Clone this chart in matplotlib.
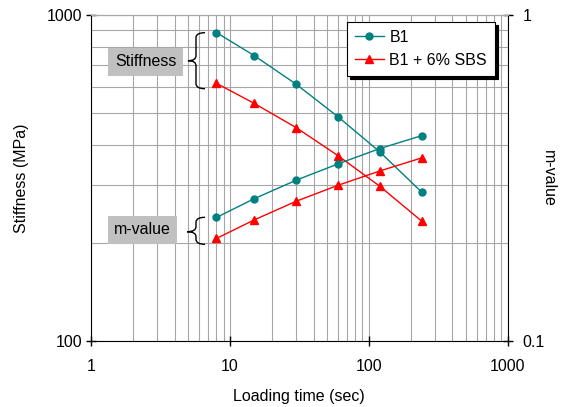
import numpy as np
import matplotlib
matplotlib.use("Agg")
import matplotlib.pyplot as plt
from matplotlib.path import Path
from matplotlib.patches import PathPatch
from matplotlib.ticker import NullFormatter

plt.rcParams['font.family'] = ['Liberation Sans', 'DejaVu Sans']
plt.rcParams['font.size'] = 11.5

# loading time (sec)
t = [8, 15, 30, 60, 120, 240]
# stiffness (MPa)
s_b1 = [883, 750, 613, 487, 380, 286]
s_sbs = [617, 535, 451, 370, 298, 233]
# m-value
m_b1 = [0.239, 0.273, 0.311, 0.349, 0.389, 0.426]
m_sbs = [0.206, 0.235, 0.268, 0.300, 0.332, 0.364]

W, H = 571, 407
fig = plt.figure(figsize=(W/100, H/100), dpi=100)
ax = fig.add_axes([91/W, 1-340.7/H, (507.7-91)/W, (340.7-15)/H])

teal = '#008080'
red = '#ff0000'
gcol = '#a6a6a6'

ax.plot(t, s_b1, '-o', color=teal, lw=1, ms=5, label='B1')
ax.plot(t, s_sbs, '-^', color=red, lw=1, ms=6, label='B1 + 6% SBS')
ax.set_xscale('log')
ax.set_yscale('log')
ax.set_xlim(1, 1000)
ax.set_ylim(100, 1000)
ax.set_xticks([1, 10, 100, 1000])
ax.set_xticklabels(['1', '10', '100', '1000'])
ax.set_yticks([100, 1000])
ax.set_yticklabels(['100', '1000'])
ax.xaxis.set_minor_formatter(NullFormatter())
ax.yaxis.set_minor_formatter(NullFormatter())
ax.grid(True, which='both', color=gcol, lw=0.8)
ax.set_axisbelow(True)
ax.tick_params(which='major', direction='inout', length=7, width=1)
ax.tick_params(axis='x', pad=10)
ax.tick_params(axis='y', pad=3)
ax.tick_params(which='minor', length=0)
ax.spines['top'].set_color(gcol)
ax.spines['right'].set_visible(False)

ax2 = ax.twinx()
ax2.plot(t, m_b1, '-o', color=teal, lw=1, ms=5)
ax2.plot(t, m_sbs, '-^', color=red, lw=1, ms=6)
ax2.set_yscale('log')
ax2.set_ylim(0.1, 1)
ax2.set_yticks([0.1, 1])
ax2.set_yticklabels(['0.1', '1'])
ax2.yaxis.set_minor_formatter(NullFormatter())
ax2.tick_params(which='major', direction='inout', length=7, width=1, pad=7)
ax2.tick_params(which='minor', length=0)
for sp in ['left', 'bottom']:
    ax2.spines[sp].set_visible(False)
ax2.spines['top'].set_color(gcol)

fig.text(22/W, 1-178/H, 'Stiffness (MPa)', rotation=90, ha='center', va='center')
fig.text(548/W, 1-178/H, 'm-value', rotation=-90, ha='center', va='center')
fig.text(299/W, 1-396/H, 'Loading time (sec)', ha='center', va='center')

leg = ax.legend(loc='upper left', bbox_to_anchor=(347/W, 1-22/H),
                bbox_transform=fig.transFigure, borderaxespad=0,
                fancybox=False, edgecolor='black', framealpha=1,
                shadow={'color': 'black', 'alpha': 1}, handlelength=1.8,
                borderpad=0.5, labelspacing=0.5, handletextpad=0.35)
leg.get_frame().set_linewidth(0.8)

# annotation boxes
fig.text(145.5/W, 1-62/H, 'Stiffness', ha='center', va='center',
         bbox=dict(boxstyle='square,pad=0.4', fc='#c0c0c0', ec='none'))
fig.text(142.5/W, 1-230/H, 'm-value', ha='center', va='center',
         bbox=dict(boxstyle='square,pad=0.4', fc='#c0c0c0', ec='none'))


def brace(x1, xs, xt, ytop, ymid, ybot, r=5):
    pts = [(x1, ytop), (xs, ytop), (xs, ytop+r), (xs, ymid-r), (xs, ymid),
           (xt, ymid), (xs, ymid), (xs, ymid+r), (xs, ybot-r), (xs, ybot),
           (x1, ybot)]
    codes = [Path.MOVETO, Path.CURVE3, Path.CURVE3, Path.LINETO, Path.CURVE3,
             Path.CURVE3, Path.CURVE3, Path.CURVE3, Path.LINETO, Path.CURVE3,
             Path.CURVE3]
    pts = [(x/W, 1-y/H) for x, y in pts]
    fig.add_artist(PathPatch(Path(pts, codes), fc='none', ec='black',
                             lw=1, transform=fig.transFigure))


brace(205, 196, 188, 32.7, 60.7, 88.7)
brace(205, 196, 187, 217.3, 231.7, 244.3)

fig.savefig('out.png', dpi=100)
